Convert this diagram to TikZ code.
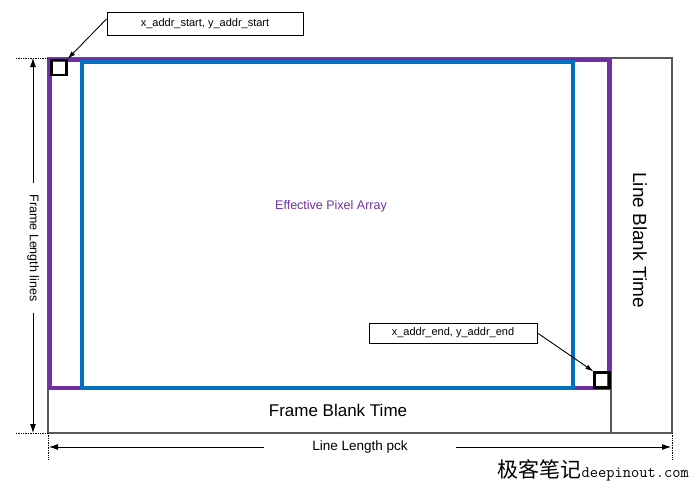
\documentclass[tikz,border=0pt]{standalone}
\usepackage{fontspec}
\setmainfont{Liberation Sans}
\newfontfamily\cjk{Noto Sans CJK SC}
\usetikzlibrary{arrows.meta}
\definecolor{framepurple}{rgb}{0.44,0.19,0.63}
\definecolor{arrayblue}{rgb}{0.0,0.44,0.75}
\begin{document}
\begin{tikzpicture}[x=1pt,y=-1pt,
  labelbox/.style={draw,line width=1pt,fill=white,inner sep=0pt,minimum height=23pt,font=\fontsize{11}{13}\selectfont},
  corner/.style={draw,line width=2.2pt,minimum size=15pt,inner sep=0pt},
  dimarrow/.style={-{Latex[length=9pt,width=6pt]},line width=0.8pt},
  dotline/.style={densely dotted,line width=0.7pt}]
\useasboundingbox (0,0) rectangle (690,482);
% outer frame
\draw[gray!70!black,line width=1.1pt] (48,58) rectangle (672,433);
\draw[gray!70!black,line width=1.1pt] (611,58) -- (611,433);
\draw[gray!70!black,line width=1.1pt] (48,388) -- (611,388);
% pixel arrays
\draw[framepurple,line width=3.5pt] (50,60) rectangle (609,388);
\draw[arrayblue,line width=3.5pt] (82,62) rectangle (573,388);
\node[corner] (start) at (59,67.5) {};
\node[corner] (end) at (602,380) {};
% labels
\node[labelbox,minimum width=196pt] (startlbl) at (205,24) {x\_addr\_start, y\_addr\_start};
\node[labelbox,minimum width=168pt,minimum height=20pt] (endlbl) at (453,333) {x\_addr\_end, y\_addr\_end};
\draw[-{Latex[length=8pt,width=5pt]},line width=0.9pt] (startlbl.west) ++(0,-5) -- (start.north east);
\draw[-{Latex[length=8pt,width=5pt]},line width=0.9pt] (endlbl.east) -- (end.north west);
\node[text=framepurple,font=\fontsize{12.5}{14}\selectfont] (effective) at (331,206) {Effective Pixel Array};
\node[font=\fontsize{17}{20}\selectfont] (frameblank) at (338,410) {Frame Blank Time};
\node[rotate=-90,font=\fontsize{19}{22}\selectfont] (lineblank) at (640,240) {Line Blank Time};
% frame length
\node[rotate=-90,font=\fontsize{12.5}{14}\selectfont] (framelen) at (33,248) {Frame Length lines};
\coordinate (ftop) at (33,58);
\coordinate (fbot) at (33,433);
\draw[dimarrow] (framelen.west) ++(0,-8) -- (ftop);
\draw[dimarrow] (framelen.east) ++(0,8) -- (fbot);
\draw[dotline] (16,58) -- (48,58);
\draw[dotline] (16,433) -- (48,433);
% line length
\node[font=\fontsize{13.5}{16}\selectfont] (linelen) at (360,447) {Line Length pck};
\coordinate (lleft) at (49,447);
\coordinate (lright) at (671,447);
\draw[dimarrow] (linelen.west) ++(-45,0) -- (lleft);
\draw[dimarrow] (linelen.east) ++(45,0) -- (lright);
\draw[dotline] (48,433) -- (48,460);
\draw[dotline] (672,433) -- (672,460);
% watermark
\node[anchor=east,inner sep=0pt] (mark) at (689,470) {{\cjk\fontsize{21}{23}\selectfont 极客笔记}{\ttfamily\fontsize{16}{18}\selectfont deepinout.com}};
\end{tikzpicture}
\end{document}
